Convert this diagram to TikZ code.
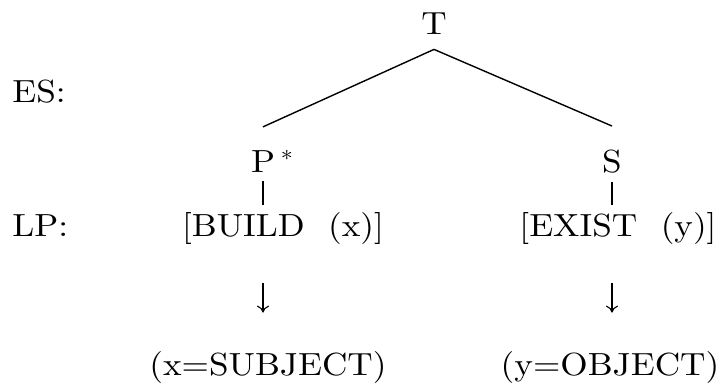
\documentclass[tikz,border=0pt]{standalone}
\usepackage{graphicx}
\usepackage{fontspec}
\setmainfont{lmroman10-regular.otf}
\usetikzlibrary{arrows.meta}
\newcommand{\wtext}[1]{\scalebox{1.1}[1]{#1}}
\tikzset{
  tier/.style={font=\fontsize{16}{19}\selectfont,anchor=base west,inner sep=0pt},
  cat/.style={font=\fontsize{16}{19}\selectfont,anchor=base,inner sep=4pt},
  branch/.style={line width=0.7pt},
  stem/.style={line width=0.7pt},
  maps/.style={line width=0.55pt,-{Computer Modern Rightarrow[length=3.5pt,width=6pt]},
    shorten <=15pt,shorten >=15pt}
}

\begin{document}
\begin{tikzpicture}[x=0.5pt,y=-0.5pt]
  \useasboundingbox (0,0) rectangle (722,389);
  % tiers
  \node[tier] (es) at (12,103) {\wtext{ES:}};
  \node[tier] (lp) at (12,237) {\wtext{LP:}};
  % tree
  \node[cat] (t) at (434,35) {\wtext{T}};
  \node[cat] (p) at (263,173) {\wtext{P\rlap{\,$^{*}$}}};
  \node[cat] (s) at (612,173) {\wtext{S}};
  \node[cat] (build) at (283,237) {\wtext{[BUILD\ \ (x)]}};
  \node[cat] (exist) at (618,237) {\wtext{[EXIST\ \ (y)]}};
  \node[cat] (subj) at (268,375) {\wtext{(x=SUBJECT)}};
  \node[cat] (obj) at (610,375) {\wtext{(y=OBJECT)}};
  \draw[branch] ([yshift=-3pt]t.south) -- ([yshift=7.5pt]p.north);
  \draw[branch] ([yshift=-3pt]t.south) -- ([yshift=8pt]s.north);
  \draw[stem] (p.south) -- (p.south |- build.north);
  \draw[stem] (s.south) -- (s.south |- exist.north);
  % mappings
  \draw[maps] (p.south |- build.south) -- (p.south |- subj.north);
  \draw[maps] (s.south |- exist.south) -- (s.south |- obj.north);
\end{tikzpicture}
\end{document}
